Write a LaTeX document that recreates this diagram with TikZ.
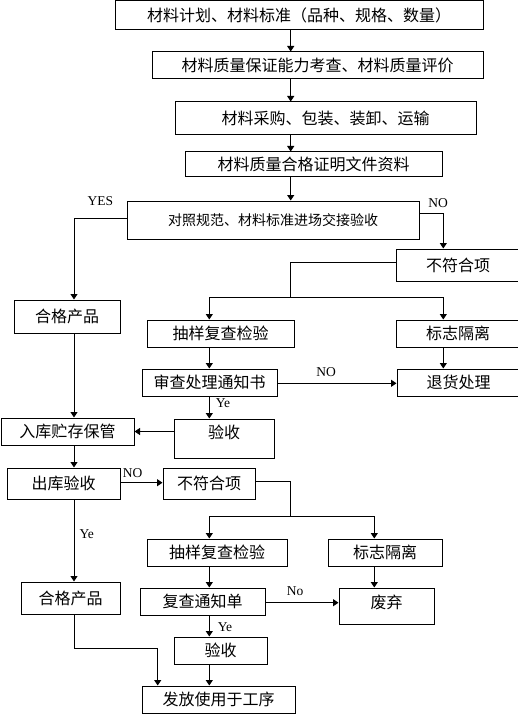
\documentclass[tikz,border=0pt]{standalone}
\usepackage{fontspec}
\setmainfont{Liberation Serif}
\newfontfamily\cjk{Noto Sans CJK SC}
\usetikzlibrary{arrows.meta,calc}
\begin{document}
\begin{tikzpicture}[x=1pt,y=-1pt,
  box/.style={draw,line width=1pt,inner sep=0pt,font=\cjk\fontsize{16}{19}\selectfont},
  arr/.style={line width=1pt,-{Triangle[length=5.5pt,width=7pt]}},
  ln/.style={line width=1pt},
  lab/.style={font=\fontsize{13.5}{15}\selectfont,inner sep=0pt}]
\clip (0,0) rectangle (518,714);
\fill[white] (0,0) rectangle (518,714);
% guide coordinates
\coordinate (spine) at (290.7,0);
\coordinate (leftx) at (74,0);
\coordinate (sx) at (209.3,0);
\coordinate (rx) at (443.3,0);
\coordinate (mx) at (374.3,0);
\coordinate (split1) at (290.7,297.7);
\coordinate (split2) at (290.7,516.7);
\coordinate (j) at (157.7,648.3);
% boxes
\node[box,minimum width=368pt,minimum height=29pt] (b1) at (299,15.5) {材料计划、材料标准（品种、规格、数量）};
\node[box,minimum width=331pt,minimum height=27pt] (b2) at (317.5,65.5) {材料质量保证能力考查、材料质量评价};
\node[box,minimum width=301pt,minimum height=33pt] (b3) at (325.5,118.5) {材料采购、包装、装卸、运输};
\node[box,minimum width=257pt,minimum height=25pt] (b4) at (313.5,164.5) {材料质量合格证明文件资料};
\node[box,minimum width=292pt,minimum height=38pt,font=\cjk\fontsize{14}{17}\selectfont] (b5) at (273,220) {对照规范、材料标准进场交接验收};
\node[box,minimum width=106pt,minimum height=33pt] (good1) at (67,316.5) {合格产品};
\node[box,minimum width=124pt,minimum height=32pt] (nc1) at (458,265) {不符合项};
\node[box,minimum width=147pt,minimum height=27pt] (s1) at (220.5,333.5) {抽样复查检验};
\node[box,minimum width=124pt,minimum height=27pt] (m1) at (458,333.5) {标志隔离};
\node[box,minimum width=135pt,minimum height=27pt] (r1) at (209.5,382.5) {审查处理通知书};
\node[box,minimum width=123pt,minimum height=27pt] (ret) at (458.5,382.5) {退货处理};
\node[box,minimum width=133pt,minimum height=27pt] (store) at (67.5,431.5) {入库贮存保管};
\node[box,minimum width=100pt,minimum height=39pt,text height=10pt,text depth=10pt] (acc1) at (224,438.5) {验收};
\node[box,minimum width=113pt,minimum height=31pt] (out) at (63.5,483.5) {出库验收};
\node[box,minimum width=92pt,minimum height=31pt] (nc2) at (209,483.5) {不符合项};
\node[box,minimum width=140pt,minimum height=27pt] (s2) at (217,552.5) {抽样复查检验};
\node[box,minimum width=114pt,minimum height=27pt] (m2) at (385,552.5) {标志隔离};
\node[box,minimum width=99pt,minimum height=32pt] (good2) at (70.5,598) {合格产品};
\node[box,minimum width=125pt,minimum height=27pt] (r2) at (202.5,601.5) {复查通知单};
\node[box,minimum width=95pt,minimum height=36pt,text height=12pt,text depth=7pt] (disc) at (386.5,606) {废弃};
\node[box,minimum width=93pt,minimum height=27pt] (acc2) at (220.5,650.5) {验收};
\node[box,minimum width=153pt,minimum height=27pt] (final) at (218.5,699.5) {发放使用于工序};
% helper points on box sides
\coordinate (b5w) at ([yshift=1.7pt]b5.west);
\coordinate (b5e) at ([yshift=6.7pt]b5.east);
\coordinate (nc1w) at ([yshift=2.7pt]nc1.west);
\coordinate (r1e) at ([yshift=-0.8pt]r1.east);
\coordinate (oute) at ([yshift=0.8pt]out.east);
\coordinate (nc2e) at ([yshift=1.8pt]nc2.east);
\coordinate (r2e) at ([yshift=-1.2pt]r2.east);
% main spine
\draw[arr] (b1.south -| spine) -- (b2.north -| spine);
\draw[arr] (b2.south -| spine) -- (b3.north -| spine);
\draw[arr] (b3.south -| spine) -- (b4.north -| spine);
\draw[arr] (b4.south -| spine) -- (b5.north -| spine);
% YES branch
\draw[arr] (b5w) -| (good1.north -| leftx);
\node[lab] (yes) at (100.5,201) {YES};
% NO branch
\draw[arr] (b5e) -| (nc1.north -| rx);
\node[lab] (no1) at (438,203) {NO};
\draw[ln] (nc1w) -| (split1);
\draw[arr] (split1) -| (s1.north -| sx);
\draw[arr] (split1) -| (m1.north -| rx);
\draw[arr] (s1.south -| sx) -- (r1.north -| sx);
\draw[arr] (m1.south -| rx) -- (ret.north -| rx);
\draw[arr] (r1e) -- (ret.west |- r1e);
\node[lab] (no2) at (326,372.5) {NO};
\draw[arr] (r1.south -| sx) -- (acc1.north -| sx);
\node[lab] (ye1) at (223,403) {Ye};
\draw[arr] (acc1.west |- store.east) -- (store.east);
% left column
\draw[arr] (good1.south -| leftx) -- (store.north -| leftx);
\draw[arr] (store.south -| leftx) -- (out.north -| leftx);
\draw[arr] (oute) -- (nc2.west |- oute);
\node[lab] (no3) at (132.5,473) {NO};
\draw[ln] (nc2e) -| (split2);
\draw[arr] (split2) -| (s2.north -| sx);
\draw[arr] (split2) -| (m2.north -| mx);
\draw[arr] (out.south -| leftx) -- (good2.north -| leftx);
\node[lab] (ye2) at (86.7,534) {Ye};
\draw[arr] (s2.south -| sx) -- (r2.north -| sx);
\draw[arr] (m2.south -| mx) -- (disc.north -| mx);
\draw[arr] (r2e) -- (disc.west |- r2e);
\node[lab] (no4) at (295,591) {No};
\draw[arr] (r2.south -| sx) -- (acc2.north -| sx);
\node[lab] (ye3) at (225,626.7) {Ye};
\draw[arr] (acc2.south -| sx) -- (final.north -| sx);
\draw[arr] (good2.south -| leftx) |- (j) -- (final.north -| j);
\end{tikzpicture}
\end{document}
